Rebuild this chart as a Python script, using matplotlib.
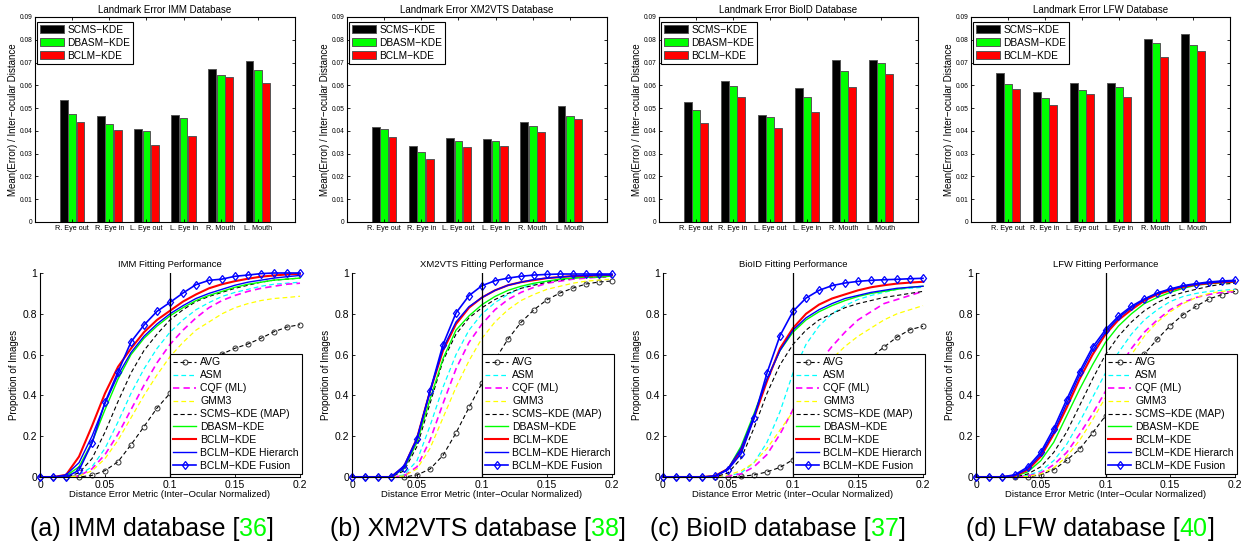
import numpy as np
import matplotlib
matplotlib.use('Agg')
import matplotlib.pyplot as plt

plt.rcParams['font.family'] = ['Liberation Sans', 'DejaVu Sans']

databases = ['IMM', 'XM2VTS', 'BioID', 'LFW']
letters = ['a', 'b', 'c', 'd']
refs = ['36', '38', '37', '40']
landmarks = ['R. Eye out', 'R. Eye in', 'L. Eye out', 'L. Eye in', 'R. Mouth', 'L. Mouth']
bar_labels = ['SCMS\u2212KDE', 'DBASM\u2212KDE', 'BCLM\u2212KDE']

# mean landmark error / inter-ocular distance
imm_scms = [0.0535, 0.0466, 0.0408, 0.0470, 0.0673, 0.0705]
imm_dbasm = [0.0473, 0.0432, 0.0400, 0.0455, 0.0645, 0.0668]
imm_bclm = [0.0438, 0.0404, 0.0336, 0.0376, 0.0636, 0.0610]

xm_scms = [0.0419, 0.0334, 0.0368, 0.0365, 0.0441, 0.0510]
xm_dbasm = [0.0407, 0.0309, 0.0356, 0.0357, 0.0422, 0.0466]
xm_bclm = [0.0375, 0.0275, 0.0331, 0.0335, 0.0393, 0.0452]

bio_scms = [0.0528, 0.0618, 0.0471, 0.0589, 0.0711, 0.0711]
bio_dbasm = [0.0491, 0.0596, 0.0461, 0.0548, 0.0664, 0.0698]
bio_bclm = [0.0436, 0.0550, 0.0412, 0.0482, 0.0594, 0.0650]

lfw_scms = [0.0655, 0.0571, 0.0612, 0.0610, 0.0802, 0.0826]
lfw_dbasm = [0.0604, 0.0544, 0.0579, 0.0593, 0.0786, 0.0777]
lfw_bclm = [0.0585, 0.0514, 0.0561, 0.0548, 0.0724, 0.0750]

# fitting performance curves (proportion of images below error)
err_grid = [0.00, 0.01, 0.02, 0.03, 0.04, 0.05, 0.06, 0.07, 0.08, 0.09, 0.10,
            0.11, 0.12, 0.13, 0.14, 0.15, 0.16, 0.17, 0.18, 0.19, 0.20]

imm_avg = [0, 0, 0, 0, 0.008, 0.031, 0.075, 0.158, 0.247, 0.338, 0.41, 0.47, 0.525, 0.568, 0.603, 0.631, 0.652, 0.68, 0.712, 0.735, 0.747]
imm_asm = [0, 0, 0, 0.01, 0.05, 0.14, 0.27, 0.41, 0.53, 0.63, 0.71, 0.77, 0.82, 0.855, 0.885, 0.905, 0.92, 0.935, 0.945, 0.95, 0.955]
imm_cqf = [0, 0, 0, 0.005, 0.04, 0.11, 0.21, 0.33, 0.45, 0.56, 0.65, 0.72, 0.78, 0.83, 0.865, 0.89, 0.91, 0.925, 0.935, 0.945, 0.95]
imm_gmm3 = [0, 0, 0, 0.005, 0.03, 0.09, 0.18, 0.29, 0.40, 0.50, 0.59, 0.66, 0.72, 0.76, 0.80, 0.83, 0.85, 0.865, 0.875, 0.88, 0.886]
imm_map = [0, 0, 0, 0.02, 0.09, 0.22, 0.37, 0.51, 0.62, 0.70, 0.77, 0.82, 0.86, 0.885, 0.905, 0.925, 0.94, 0.955, 0.965, 0.97, 0.975]
imm_dbasm_c = [0, 0, 0.005, 0.05, 0.17, 0.33, 0.48, 0.60, 0.68, 0.74, 0.79, 0.83, 0.865, 0.89, 0.91, 0.93, 0.945, 0.955, 0.965, 0.97, 0.975]
imm_bclm_c = [0, 0, 0.01, 0.10, 0.25, 0.41, 0.54, 0.63, 0.71, 0.77, 0.815, 0.86, 0.895, 0.925, 0.945, 0.96, 0.972, 0.982, 0.988, 0.993, 0.996]
imm_hier = [0, 0, 0.01, 0.07, 0.20, 0.36, 0.50, 0.61, 0.69, 0.75, 0.80, 0.84, 0.875, 0.90, 0.92, 0.94, 0.955, 0.965, 0.975, 0.982, 0.988]
imm_fusion = [0, 0, 0, 0.033, 0.167, 0.366, 0.515, 0.662, 0.745, 0.812, 0.856, 0.902, 0.943, 0.964, 0.97, 0.984, 0.99, 0.997, 1.0, 1.0, 1.0]

xm_avg = [0, 0, 0, 0, 0, 0.01, 0.039, 0.106, 0.216, 0.341, 0.46, 0.575, 0.676, 0.758, 0.82, 0.869, 0.902, 0.926, 0.946, 0.956, 0.961]
xm_asm = [0, 0, 0, 0, 0.01, 0.08, 0.25, 0.44, 0.60, 0.72, 0.80, 0.855, 0.895, 0.925, 0.945, 0.96, 0.97, 0.975, 0.98, 0.985, 0.985]
xm_cqf = [0, 0, 0, 0, 0.005, 0.05, 0.18, 0.36, 0.53, 0.66, 0.75, 0.82, 0.87, 0.905, 0.93, 0.95, 0.96, 0.97, 0.975, 0.98, 0.98]
xm_gmm3 = [0, 0, 0, 0, 0.005, 0.04, 0.14, 0.29, 0.44, 0.57, 0.68, 0.76, 0.82, 0.865, 0.895, 0.92, 0.935, 0.95, 0.96, 0.965, 0.97]
xm_map = [0, 0, 0, 0, 0.03, 0.15, 0.36, 0.57, 0.70, 0.78, 0.83, 0.87, 0.90, 0.925, 0.94, 0.955, 0.965, 0.975, 0.98, 0.98, 0.985]
xm_dbasm_c = [0, 0, 0, 0, 0.04, 0.17, 0.38, 0.58, 0.72, 0.79, 0.845, 0.885, 0.915, 0.935, 0.95, 0.96, 0.97, 0.975, 0.98, 0.98, 0.985]
xm_bclm_c = [0, 0, 0, 0, 0.05, 0.19, 0.42, 0.62, 0.75, 0.83, 0.88, 0.915, 0.94, 0.955, 0.965, 0.975, 0.98, 0.985, 0.985, 0.99, 0.99]
xm_hier = [0, 0, 0, 0, 0.055, 0.19, 0.42, 0.63, 0.76, 0.835, 0.88, 0.915, 0.94, 0.955, 0.968, 0.975, 0.98, 0.985, 0.988, 0.99, 0.99]
xm_fusion = [0, 0, 0, 0, 0.044, 0.186, 0.42, 0.649, 0.804, 0.889, 0.938, 0.962, 0.975, 0.984, 0.99, 0.993, 0.995, 0.995, 0.995, 0.995, 0.995]

bio_avg = [0, 0, 0, 0, 0, 0, 0.003, 0.01, 0.025, 0.047, 0.085, 0.15, 0.24, 0.34, 0.44, 0.52, 0.588, 0.637, 0.686, 0.722, 0.739]
bio_asm = [0, 0, 0, 0, 0, 0.005, 0.02, 0.07, 0.17, 0.32, 0.51, 0.65, 0.74, 0.80, 0.84, 0.87, 0.89, 0.905, 0.92, 0.925, 0.93]
bio_cqf = [0, 0, 0, 0, 0, 0.005, 0.015, 0.05, 0.11, 0.21, 0.33, 0.45, 0.56, 0.64, 0.71, 0.77, 0.81, 0.85, 0.87, 0.89, 0.91]
bio_gmm3 = [0, 0, 0, 0, 0, 0.01, 0.03, 0.07, 0.14, 0.23, 0.32, 0.41, 0.50, 0.58, 0.64, 0.69, 0.73, 0.77, 0.80, 0.82, 0.84]
bio_map = [0, 0, 0, 0, 0, 0.02, 0.09, 0.24, 0.41, 0.55, 0.65, 0.72, 0.77, 0.80, 0.83, 0.85, 0.865, 0.88, 0.89, 0.90, 0.91]
bio_dbasm_c = [0, 0, 0, 0, 0.005, 0.04, 0.15, 0.31, 0.48, 0.62, 0.71, 0.77, 0.81, 0.84, 0.865, 0.885, 0.90, 0.91, 0.92, 0.93, 0.935]
bio_bclm_c = [0, 0, 0, 0, 0.005, 0.04, 0.13, 0.29, 0.47, 0.63, 0.73, 0.80, 0.845, 0.875, 0.895, 0.915, 0.93, 0.94, 0.948, 0.953, 0.957]
bio_hier = [0, 0, 0, 0, 0.005, 0.04, 0.14, 0.30, 0.48, 0.62, 0.72, 0.78, 0.82, 0.85, 0.875, 0.89, 0.905, 0.915, 0.925, 0.93, 0.935]
bio_fusion = [0, 0, 0, 0, 0.003, 0.036, 0.114, 0.289, 0.51, 0.693, 0.812, 0.877, 0.915, 0.938, 0.951, 0.959, 0.964, 0.967, 0.969, 0.972, 0.974]

lfw_avg = [0, 0, 0, 0, 0, 0.011, 0.036, 0.082, 0.137, 0.216, 0.30, 0.40, 0.50, 0.603, 0.676, 0.742, 0.796, 0.837, 0.873, 0.894, 0.91]
lfw_asm = [0, 0, 0, 0, 0.008, 0.03, 0.08, 0.16, 0.27, 0.39, 0.51, 0.61, 0.70, 0.77, 0.82, 0.86, 0.885, 0.90, 0.91, 0.915, 0.92]
lfw_cqf = [0, 0, 0, 0, 0.005, 0.02, 0.06, 0.12, 0.21, 0.31, 0.42, 0.53, 0.63, 0.71, 0.77, 0.82, 0.855, 0.88, 0.895, 0.905, 0.91]
lfw_gmm3 = [0, 0, 0, 0, 0.003, 0.015, 0.045, 0.10, 0.18, 0.28, 0.39, 0.50, 0.60, 0.69, 0.76, 0.81, 0.85, 0.88, 0.90, 0.91, 0.915]
lfw_map = [0, 0, 0, 0, 0.015, 0.05, 0.12, 0.22, 0.35, 0.48, 0.60, 0.69, 0.76, 0.815, 0.855, 0.885, 0.905, 0.92, 0.935, 0.945, 0.95]
lfw_dbasm_c = [0, 0, 0, 0.004, 0.025, 0.08, 0.17, 0.30, 0.43, 0.55, 0.66, 0.74, 0.80, 0.85, 0.88, 0.905, 0.925, 0.94, 0.947, 0.952, 0.955]
lfw_bclm_c = [0, 0, 0, 0.006, 0.035, 0.10, 0.21, 0.34, 0.48, 0.60, 0.70, 0.77, 0.82, 0.865, 0.895, 0.915, 0.932, 0.943, 0.95, 0.955, 0.958]
lfw_hier = [0, 0, 0, 0.008, 0.04, 0.11, 0.22, 0.36, 0.50, 0.62, 0.71, 0.78, 0.83, 0.87, 0.90, 0.92, 0.935, 0.945, 0.952, 0.957, 0.96]
lfw_fusion = [0, 0, 0, 0.011, 0.049, 0.121, 0.237, 0.379, 0.516, 0.636, 0.722, 0.788, 0.837, 0.873, 0.902, 0.922, 0.938, 0.948, 0.956, 0.961, 0.964]

bar_sets = [(imm_scms, imm_dbasm, imm_bclm), (xm_scms, xm_dbasm, xm_bclm),
            (bio_scms, bio_dbasm, bio_bclm), (lfw_scms, lfw_dbasm, lfw_bclm)]
curve_sets = [
    (imm_avg, imm_asm, imm_cqf, imm_gmm3, imm_map, imm_dbasm_c, imm_bclm_c, imm_hier, imm_fusion),
    (xm_avg, xm_asm, xm_cqf, xm_gmm3, xm_map, xm_dbasm_c, xm_bclm_c, xm_hier, xm_fusion),
    (bio_avg, bio_asm, bio_cqf, bio_gmm3, bio_map, bio_dbasm_c, bio_bclm_c, bio_hier, bio_fusion),
    (lfw_avg, lfw_asm, lfw_cqf, lfw_gmm3, lfw_map, lfw_dbasm_c, lfw_bclm_c, lfw_hier, lfw_fusion),
]

# label, color, linestyle, linewidth, marker
curve_styles = [
    ('AVG', 'k', '--', 0.8, 'o'),
    ('ASM', '#00ffff', '--', 0.9, None),
    ('CQF (ML)', '#ff00ff', '--', 1.2, None),
    ('GMM3', '#ffff00', '--', 0.9, None),
    ('SCMS\u2212KDE (MAP)', 'k', '--', 0.8, None),
    ('DBASM\u2212KDE', '#00ff00', '-', 1.0, None),
    ('BCLM\u2212KDE', '#ff0000', '-', 1.5, None),
    ('BCLM\u2212KDE Hierarch', '#0000ff', '-', 1.0, None),
    ('BCLM\u2212KDE Fusion', '#0000ff', '-', 1.2, 'd'),
]
bar_colors = ['k', '#00ff00', '#ff0000']

W, H = 1255, 550
fig = plt.figure(figsize=(W / 100, H / 100), dpi=100)


def px_axes(left, top, right, bottom):
    return fig.add_axes([left / W, 1 - bottom / H, (right - left) / W, (bottom - top) / H])


top_x = [(35, 295), (347, 607), (659, 918), (971, 1230)]
bot_x = [(40, 300), (352, 612), (663, 923), (976, 1235)]
cap_x = [30, 330, 650, 966]

pos = np.arange(1, 7)
for i, db in enumerate(databases):
    # --- bar chart ---
    ax = px_axes(top_x[i][0], 17, top_x[i][1], 222)
    for k, vals in enumerate(bar_sets[i]):
        ax.bar(pos + (k - 1) * 0.225, vals, width=0.21, color=bar_colors[k],
               edgecolor='#555555', linewidth=0.7, label=bar_labels[k])
    ax.set_xlim(0, 7)
    ax.set_ylim(0, 0.09)
    ax.set_xticks(pos)
    ax.set_xticklabels(landmarks, fontsize=5.2)
    yt = np.linspace(0, 0.09, 10)
    ax.set_yticks(yt)
    ax.set_yticklabels([f'{v:g}' for v in yt], fontsize=4.8)
    ax.tick_params(direction='in', top=True, right=True, length=2.5, width=0.6, pad=2)
    for s in ax.spines.values():
        s.set_linewidth(0.8)
    ax.set_title(f'Landmark Error {db} Database', fontsize=7, pad=3)
    ax.set_ylabel('Mean(Error) / Inter\u2212ocular Distance', fontsize=7, labelpad=1)
    leg = ax.legend(loc='upper left', bbox_to_anchor=(0.008, 0.978), borderaxespad=0,
                    fontsize=7.3, handlelength=2.4, handleheight=0.9, handletextpad=0.3,
                    labelspacing=0.3, borderpad=0.3, fancybox=False, edgecolor='k', framealpha=1)
    leg.get_frame().set_linewidth(0.8)

    # --- fitting performance ---
    ax2 = px_axes(bot_x[i][0], 273, bot_x[i][1], 477)
    for vals, (lab, col, ls, lw, mk) in zip(curve_sets[i], curve_styles):
        kw = {}
        if mk == 'o':
            kw = dict(marker='o', ms=3.6, mfc='none', mec='#333333', mew=0.7)
        elif mk == 'd':
            kw = dict(marker='d', ms=4.5, mfc='none', mec=col, mew=0.9)
        line, = ax2.plot(err_grid, vals, color=col, ls=ls, lw=lw, label=lab, clip_on=False, **kw)
        if ls == '--':
            line.set_dashes((3.8, 2.5))
    ax2.axvline(0.1, color='k', lw=0.9)
    ax2.set_xlim(0, 0.2)
    ax2.set_ylim(0, 1)
    ax2.spines['top'].set_visible(False)
    ax2.spines['right'].set_visible(False)
    ax2.set_xticks([0, 0.05, 0.1, 0.15, 0.2])
    ax2.set_xticklabels(['0', '0.05', '0.1', '0.15', '0.2'])
    ax2.set_yticks([0, 0.2, 0.4, 0.6, 0.8, 1])
    ax2.set_yticklabels(['0', '0.2', '0.4', '0.6', '0.8', '1'])
    ax2.tick_params(direction='in', length=2.5, width=0.6, labelsize=7.5, pad=2)
    ax2.set_title(f'{db} Fitting Performance', fontsize=6.8, pad=4)
    ax2.set_xlabel('Distance Error Metric (Inter\u2212Ocular Normalized)', fontsize=6.8, labelpad=0)
    ax2.set_ylabel('Proportion of Images', fontsize=7, labelpad=3)
    leg2 = ax2.legend(loc='lower right', bbox_to_anchor=(1.008, 0.015), borderaxespad=0,
                      fontsize=7.5, handlelength=2.2, handletextpad=0.4, labelspacing=0.28,
                      borderpad=0.3, fancybox=False, edgecolor='k', framealpha=1)
    leg2.get_frame().set_linewidth(0.8)

    # --- caption with green reference number ---
    t1 = fig.text(cap_x[i] / W, 1 - 536 / H, f'({letters[i]}) {db} database [',
                  fontsize=18, va='baseline')
    t2 = ax2.annotate(refs[i], xy=(1, 0), xycoords=t1, va='bottom', ha='left',
                      fontsize=18, color='#00ff00', annotation_clip=False)
    ax2.annotate(']', xy=(1, 0), xycoords=t2, va='bottom', ha='left',
                 fontsize=18, annotation_clip=False)

fig.savefig('out.png', dpi=100)
